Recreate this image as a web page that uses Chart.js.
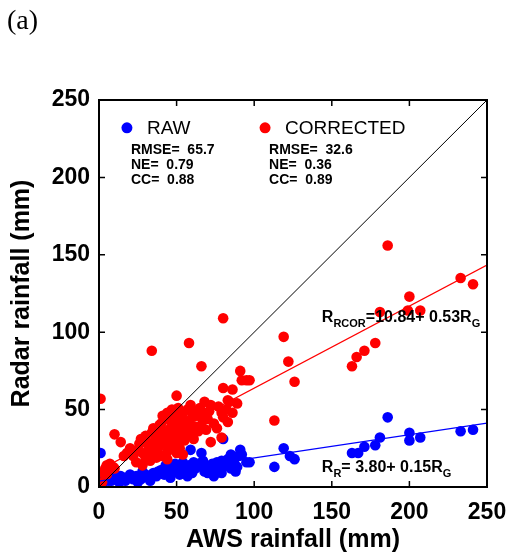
<!DOCTYPE html>
<html>
<head>
<meta charset="utf-8">
<script src="https://cdn.jsdelivr.net/npm/chart.js@4.4.1/dist/chart.umd.min.js"></script>
<style>
  html, body { margin: 0; padding: 0; background: #ffffff; }
  #wrap { width: 511px; height: 557px; position: relative; }
</style>
</head>
<body>
<div id="wrap"><canvas id="c"></canvas></div>
<script>
// ---------- data ----------
const tickValues = [0, 50, 100, 150, 200, 250];

// RAW radar vs AWS (blue)
const rawAws = [186,233,241,200,200,207,181,178,171,167,163,119,123,126,113,97,
  1,80,59,66,91,85,92,95,
  2,6,3,8,11,14,17,19,22,24,27,30,32,35,37,40,42,45,47,49,50,52,53,56,58,60,62,64,66,68,70,71,73,75,77,79,79,81,83,85,87,89,90,
  10,13,16,20,25,28,33,38,43,46,54,57,61,67,74,76,88];
const rawRadar = [45,36,37,35,30,32,32,27,26,22,22,25,20,18,13,16,
  22,31,24,22,24,21,21,16,
  2,4,5,4,5,7,4,6,5,7,5,8,6,9,7,11,8,12,9,15,11,8,13,10,14,9,12,15,14,10,9,13,15,12,10,17,9,14,18,12,16,13,20,
  8,3,6,8,3,10,4,10,14,6,16,7,16,17,7,16,10];

// CORRECTED radar vs AWS (red)
const corAws = [186,233,241,200,199,207,181,119,178,171,166,163,122,126,113,97,
  80,58,34,66,91,92,95,80,86,50,1,83,84,89,51,72,77,71,79,86,66,60,63,67,46,39,80,74,83,
  10,14,20,26,30,34,40,45,72,79,54,5,9,3,2,7,4,10,5,
  55,62,66,69,64,57,55,51,
  22,25,28,30,32,35,36,38,40,40,42,43,44,45,46,47,48,49,50,50,52,52,53,35,38,42,30,27,33,37,44,48,41,56,58,60,61,47,24,28,16,18,31,36,39,43,46,49,51,54,57,59,62,65,68,70,76,82,47,44];
const corRadar = [156,135,131,123,114,114,113,97,93,88,84,78,81,68,43,69,
  109,93,88,78,75,69,69,64,63,59,57,56,55,54,51,53,52,49,48,48,45,45,46,48,43,40,45,41,42,
  34,29,25,28,30,35,41,45,29,32,21,14,13,9,3,15,12,12,8,
  43,39,40,37,36,34,30,36,
  20,24,22,18,26,22,30,25,20,33,28,36,23,31,38,26,34,42,29,22,25,40,32,38,36,44,33,31,17,19,18,47,46,38,41,36,31,40,16,14,20,22,21,26,29,32,33,37,45,48,50,53,49,51,55,44,38,50,50,48];

// regression / reference lines
const lineRange = [0, 250];
const rawFit = { intercept: 3.80, slope: 0.15 };
const corFit = { intercept: 10.84, slope: 0.53 };

// statistics for the in-plot legend
const seriesNames = ['RAW', 'CORRECTED'];
const rmse = ['65.7', '32.6'];
const ne = ['0.79', '0.36'];
const cc = ['0.88', '0.89'];

// ---------- build ----------
const toPts = (xs, ys) => xs.map((x, i) => ({ x: x, y: ys[i] }));
const fitPts = f => lineRange.map(x => ({ x: x, y: f.intercept + f.slope * x }));

const FONT = '"Liberation Sans", Arial, sans-serif';

const overlay = {
  id: 'overlay',
  afterDraw(chart) {
    const ctx = chart.ctx;
    const xs = chart.scales.x, ys = chart.scales.y;
    const a = chart.chartArea;
    ctx.save();
    // box
    ctx.strokeStyle = '#000';
    ctx.lineWidth = 2;
    ctx.strokeRect(a.left, a.top, a.right - a.left, a.bottom - a.top);
    // inward ticks
    ctx.lineWidth = 1.5;
    const tl = 6;
    tickValues.forEach(v => {
      const px = xs.getPixelForValue(v);
      const py = ys.getPixelForValue(v);
      ctx.beginPath();
      ctx.moveTo(px, a.bottom); ctx.lineTo(px, a.bottom - tl);
      ctx.moveTo(px, a.top); ctx.lineTo(px, a.top + tl);
      ctx.moveTo(a.left, py); ctx.lineTo(a.left + tl, py);
      ctx.moveTo(a.right, py); ctx.lineTo(a.right - tl, py);
      ctx.stroke();
    });

    // legend
    const colors = ['#0000ff', '#ff0000'];
    const legX = [18, 107];
    const legY = 232;
    ctx.textBaseline = 'middle';
    ctx.textAlign = 'left';
    for (let i = 0; i < 2; i++) {
      const dx = xs.getPixelForValue(legX[i]);
      const dy = ys.getPixelForValue(legY);
      ctx.fillStyle = colors[i];
      ctx.beginPath();
      ctx.arc(dx, dy, 5.5, 0, Math.PI * 2);
      ctx.fill();
      ctx.fillStyle = '#000';
      ctx.font = '19px ' + FONT;
      ctx.fillText(seriesNames[i], dx + 20, dy + 1);
      ctx.font = 'bold 14px ' + FONT;
      ctx.fillText('RMSE=  ' + rmse[i], dx + 4, dy + 22);
      ctx.fillText('NE=  ' + ne[i], dx + 4, dy + 37);
      ctx.fillText('CC=  ' + cc[i], dx + 4, dy + 52);
    }

    // equations with subscripts
    const drawEq = (parts, x, y) => {
      ctx.textBaseline = 'alphabetic';
      let cx = x;
      parts.forEach(p => {
        ctx.font = 'bold ' + (p.sub ? 11 : 16) + 'px ' + FONT;
        ctx.fillText(p.t, cx, y + (p.sub ? 5 : 0));
        cx += ctx.measureText(p.t).width;
      });
    };
    const ex = xs.getPixelForValue(143.6);
    drawEq([{t:'R'},{t:'RCOR',sub:true},{t:'=' + corFit.intercept.toFixed(2) + '+ ' + corFit.slope.toFixed(2) + 'R'},{t:'G',sub:true}],
      ex, ys.getPixelForValue(106.5));
    drawEq([{t:'R'},{t:'R',sub:true},{t:'= ' + rawFit.intercept.toFixed(2) + '+ ' + rawFit.slope.toFixed(2) + 'R'},{t:'G',sub:true}],
      ex, ys.getPixelForValue(9.7));

    // panel label
    ctx.font = '28px "Liberation Serif", "Times New Roman", serif';
    ctx.textBaseline = 'middle';
    ctx.fillText('(a)', 7, 22);
    ctx.restore();
  }
};

new Chart(document.getElementById('c'), {
  type: 'scatter',
  data: {
    datasets: [
      { label: '1:1', type: 'line', data: toPts(lineRange, lineRange), borderColor: '#000', borderWidth: 1,
        pointRadius: 0, fill: false, order: 0, clip: 0 },
      { label: 'corFit', type: 'line', data: fitPts(corFit), borderColor: '#ff0000', borderWidth: 1.3,
        pointRadius: 0, fill: false, order: 0, clip: 0 },
      { label: 'rawFit', type: 'line', data: fitPts(rawFit), borderColor: '#0000ff', borderWidth: 1.3,
        pointRadius: 0, fill: false, order: 0, clip: 0 },
      { label: 'CORRECTED', data: toPts(corAws, corRadar), backgroundColor: '#ff0000', borderWidth: 0,
        pointRadius: 5.3, order: 1, clip: 0 },
      { label: 'RAW', data: toPts(rawAws, rawRadar), backgroundColor: '#0000ff', borderWidth: 0,
        pointRadius: 5.3, order: 2, clip: 0 }
    ]
  },
  options: {
    responsive: true,
    maintainAspectRatio: false,
    animation: false,
    devicePixelRatio: 1,
    layout: { padding: { left: 0, right: 24, top: 100, bottom: 0 } },
    plugins: { legend: { display: false }, tooltip: { enabled: false } },
    scales: {
      x: {
        type: 'linear', min: 0, max: 250,
        grid: { display: false, drawTicks: false },
        border: { display: false },
        ticks: { stepSize: 50, color: '#000', padding: 12, font: { family: FONT, size: 23, weight: 'bold' } },
        title: { display: true, text: 'AWS rainfall (mm)', color: '#000', padding: { top: 0, bottom: 2 },
          font: { family: FONT, size: 25, weight: 'bold' } },
        afterFit: s => { s.height = 70; s.paddingLeft = 0; s.paddingRight = 0; }
      },
      y: {
        type: 'linear', min: 0, max: 250,
        grid: { display: false, drawTicks: false },
        border: { display: false },
        ticks: { stepSize: 50, color: '#000', padding: 9, font: { family: FONT, size: 23, weight: 'bold' } },
        title: { display: true, text: 'Radar rainfall (mm)', color: '#000', padding: { top: 7, bottom: 0 },
          font: { family: FONT, size: 25, weight: 'bold' } },
        afterFit: s => { s.width = 99; s.paddingTop = 0; s.paddingBottom = 0; }
      }
    }
  },
  plugins: [overlay]
});
</script>
</body>
</html>
